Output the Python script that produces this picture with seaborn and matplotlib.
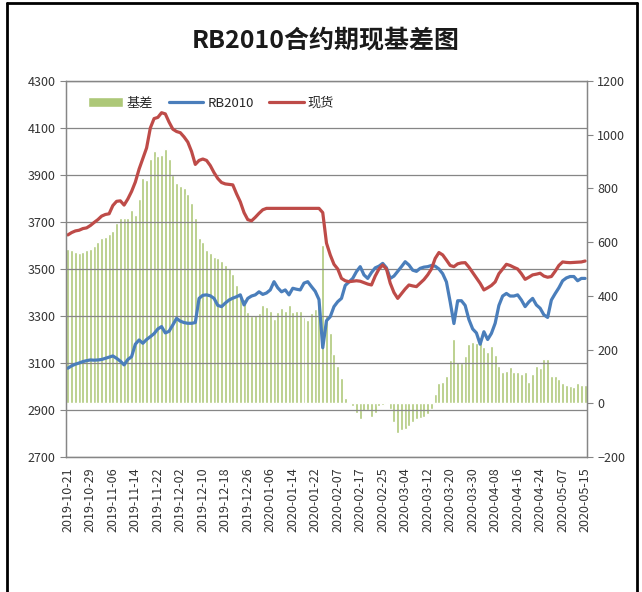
import pandas as pd
import numpy as np
import matplotlib
matplotlib.use("Agg")
import matplotlib.pyplot as plt
import seaborn as sns
from matplotlib.lines import Line2D

# 现货 spot price, one value per trading day
spot = [3645, 3655, 3662, 3665, 3672, 3675, 3685, 3698, 3710, 3725,
        3732, 3735, 3770, 3788, 3790, 3772, 3798, 3830, 3870, 3925,
        3970, 4015, 4100, 4140, 4145, 4165, 4160, 4125, 4095, 4085,
        4080, 4062, 4040, 4000, 3945, 3962, 3968, 3962, 3940, 3910,
        3885, 3868, 3862, 3860, 3858, 3820, 3786, 3740, 3710, 3705,
        3720, 3737, 3752, 3758, 3758, 3758, 3758, 3758, 3758, 3758,
        3758, 3758, 3758, 3758, 3758, 3758, 3758, 3758, 3740, 3610,
        3560, 3520, 3500, 3460, 3450, 3446, 3448, 3450, 3448, 3442,
        3436, 3432, 3470, 3500, 3517, 3500, 3440, 3400, 3375, 3395,
        3415, 3432, 3428, 3425, 3440, 3455, 3475, 3500, 3545, 3570,
        3560, 3538, 3515, 3510, 3522, 3526, 3527, 3508, 3485, 3462,
        3439, 3411, 3420, 3430, 3445, 3480, 3500, 3520, 3515, 3507,
        3500, 3480, 3456, 3465, 3475, 3478, 3482, 3470, 3465, 3468,
        3490, 3515, 3530, 3528, 3527, 3528, 3529, 3530, 3534]

# RB2010 futures price
futures = [3078, 3088, 3095, 3100, 3106, 3110, 3113, 3112, 3113, 3115,
           3120, 3125, 3130, 3120, 3108, 3092, 3115, 3127, 3180, 3198,
           3184, 3200, 3212, 3225, 3245, 3255, 3228, 3235, 3262, 3290,
           3278, 3272, 3269, 3269, 3272, 3375, 3388, 3390, 3386, 3375,
           3345, 3340, 3355, 3368, 3376, 3382, 3390, 3347, 3375, 3385,
           3390, 3403, 3392, 3398, 3411, 3446, 3420, 3403, 3411, 3390,
           3418, 3414, 3411, 3440, 3446, 3425, 3405, 3370, 3165, 3280,
           3297, 3340, 3361, 3375, 3430, 3445, 3460, 3489, 3510, 3475,
           3460, 3485, 3505, 3512, 3524, 3505, 3460, 3470, 3490, 3510,
           3531, 3517, 3495, 3490, 3503, 3508, 3510, 3515, 3512, 3500,
           3480, 3445, 3360, 3268, 3365, 3365, 3345, 3285, 3245, 3228,
           3180, 3233, 3200, 3226, 3269, 3345, 3385, 3396, 3385, 3385,
           3390, 3368, 3340, 3360, 3375, 3347, 3333, 3305, 3294, 3368,
           3395, 3420, 3450, 3462, 3468, 3468, 3450, 3460, 3460]

# 基差 basis (right axis)
basis = [575, 570, 565, 560, 565, 570, 575, 585, 600, 615,
         620, 630, 640, 670, 690, 690, 690, 720, 700, 760,
         840, 830, 910, 940, 920, 925, 945, 910, 850, 820,
         810, 800, 780, 745, 690, 615, 600, 570, 560, 545,
         540, 530, 515, 505, 480, 440, 400, 390, 340, 325,
         330, 335, 365, 360, 345, 315, 340, 355, 345, 365,
         340, 345, 345, 320, 310, 335, 350, 390, 590, 330,
         260, 185, 140, 95, 20, 5, -10, -35, -60, -30,
         -25, -50, -35, -10, -5, 5, -20, -70, -110, -100,
         -95, -85, -70, -60, -55, -50, -40, -20, 35, 75,
         80, 100, 160, 240, 155, 150, 175, 220, 230, 225,
         245, 210, 190, 215, 180, 140, 115, 120, 135, 115,
         115, 110, 115, 80, 110, 140, 130, 165, 165, 100,
         100, 90, 75, 70, 65, 60, 75, 70, 70]

holidays = ["2020-01-01", "2020-01-24", "2020-01-27", "2020-01-28", "2020-01-29",
            "2020-01-30", "2020-01-31", "2020-04-06", "2020-05-01", "2020-05-04",
            "2020-05-05"]

dates = pd.bdate_range("2019-10-21", "2020-05-15")
dates = dates[~dates.isin(pd.to_datetime(holidays))]

df = pd.DataFrame({"pos": np.arange(len(dates)), "date": dates,
                   "spot": spot, "futures": futures, "basis": basis})

sns.set_style("white")
plt.rcParams["font.family"] = ["Noto Sans CJK SC", "DejaVu Sans"]

grey = "#868686"
blue = "#4A7EBB"
red = "#BE4B48"
green = "#ADC878"

fig, ax = plt.subplots(figsize=(6.42, 5.92), dpi=100)
fig.subplots_adjust(left=0.1028, right=0.9143, top=0.8632, bottom=0.228)
ax2 = ax.twinx()

sns.barplot(data=df, x="pos", y="basis", native_scale=True, color=green,
            saturation=1, width=0.8, errorbar=None, ax=ax2, label="基差")
sns.lineplot(data=df, x="pos", y="futures", color=blue, lw=2.3, ax=ax, label="RB2010")
sns.lineplot(data=df, x="pos", y="spot", color=red, lw=2.3, ax=ax, label="现货")

# lines above the bars
ax.set_zorder(ax2.get_zorder() + 1)
ax.patch.set_visible(False)

ax.set_ylim(2700, 4300)
ax.set_yticks(np.arange(2700, 4301, 200))
ax2.set_ylim(-200, 1200)
ax2.set_yticks(np.arange(-200, 1201, 200))
ax.set_xlim(-0.5, len(df) - 0.5)

tick_pos = df["pos"][::6]
tick_labels = df["date"][::6].dt.strftime("%Y-%m-%d")
ax.set_xticks(tick_pos)
ax.set_xticklabels(tick_labels, rotation=90)
ax.set_xticks(np.arange(-0.5, len(df), 1), minor=True)

ax.yaxis.grid(True, color=grey, lw=0.9)
ax.set_xlabel("")
ax.set_ylabel("")
ax2.set_ylabel("")
ax2.set_xlabel("")

for a in (ax, ax2):
    for s in a.spines.values():
        s.set_color(grey)
        s.set_linewidth(0.9)
ax.tick_params(axis="both", which="both", length=4, color=grey, labelsize=9,
               labelcolor="#333333")
ax.tick_params(axis="x", which="minor", length=3)
ax2.tick_params(axis="y", length=4, color=grey, labelsize=9, labelcolor="#333333")

h1, l1 = ax2.get_legend_handles_labels()
h2, l2 = ax.get_legend_handles_labels()
if ax2.get_legend():
    ax2.get_legend().remove()
ax.legend(h1 + h2, l1 + l2, loc="upper left", bbox_to_anchor=(0.02, 0.99), ncol=3,
          frameon=False, fontsize=9.5, handlelength=2.6, columnspacing=1.2,
          handletextpad=0.3)

fig.text(0.507, 1 - 40 / 592, "RB2010合约期现基差图", ha="center", va="center",
         fontsize=18, fontweight="bold", color="#1a1a1a")

# outer frame
for xs, ys in [([0.011, 0.011], [0, 0.995]), ([0.011, 0.992], [0.995, 0.995]),
               ([0.992, 0.992], [0, 0.995])]:
    fig.add_artist(Line2D(xs, ys, transform=fig.transFigure, color="black", lw=2))

fig.savefig("out.png", dpi=100)
